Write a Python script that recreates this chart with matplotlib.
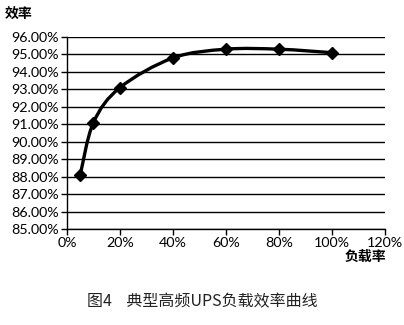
import numpy as np
import matplotlib
matplotlib.use("Agg")
import matplotlib.pyplot as plt
from matplotlib.path import Path
from matplotlib.patches import PathPatch
from matplotlib.ticker import FuncFormatter, MultipleLocator

plt.rcParams['font.family'] = ['Lato', 'Noto Sans CJK SC', 'DejaVu Sans']

# Load rate (%) and efficiency (%)
load_pct = [5, 10, 20, 40, 60, 80, 100]
efficiency_pct = [88.1, 91.1, 93.1, 94.8, 95.3, 95.3, 95.1]

x_ticks = [0, 20, 40, 60, 80, 100, 120]
y_min, y_max = 85, 96

fig = plt.figure(figsize=(4.04, 3.25), dpi=100)
ax = fig.add_axes([0.1658, 0.2954, 0.7872, 0.5908])

ax.set_xlim(0, 120)
ax.set_ylim(y_min, y_max)
ax.set_xticks(x_ticks)
ax.xaxis.set_major_formatter(FuncFormatter(lambda v, p: f"{v:.0f}%"))
ax.yaxis.set_major_locator(MultipleLocator(1))
ax.yaxis.set_major_formatter(FuncFormatter(lambda v, p: f"{v:.2f}%"))

ax.grid(axis='y', color='black', linewidth=1.0)
ax.set_axisbelow(True)
for s in ['top', 'right']:
    ax.spines[s].set_visible(False)
for s in ['left', 'bottom']:
    ax.spines[s].set_color('black')
    ax.spines[s].set_linewidth(1.0)
ax.tick_params(axis='both', labelsize=10.3, color='black', length=4, width=1.0, pad=2)

# Smoothed line through the data (Catmull-Rom style Bezier segments)
pts = np.column_stack([load_pct, efficiency_pct]).astype(float)
verts = [tuple(pts[0])]
codes = [Path.MOVETO]
n = len(pts)
t = 1.0 / 6.0
for i in range(n - 1):
    p0 = pts[i - 1] if i > 0 else pts[i]
    p1 = pts[i]
    p2 = pts[i + 1]
    p3 = pts[i + 2] if i + 2 < n else pts[i + 1]
    c1 = p1 + (p2 - p0) * t
    c2 = p2 - (p3 - p1) * t
    verts += [tuple(c1), tuple(c2), tuple(p2)]
    codes += [Path.CURVE4] * 3
ax.add_patch(PathPatch(Path(verts, codes), facecolor='none', edgecolor='black',
                       linewidth=2.4, zorder=3, clip_on=False))
ax.plot(load_pct, efficiency_pct, linestyle='none', marker='D', markersize=6,
        color='black', zorder=4, clip_on=False)

fig.text(0.012, 0.958, "效率", fontsize=10, family=['Noto Sans CJK SC'],
         fontweight='bold', va='center', ha='left')
fig.text(0.955, 0.21, "负载率", fontsize=10, family=['Noto Sans CJK SC'],
         fontweight='bold', va='center', ha='right')
fig.text(0.5, 0.072, "图4    典型高频UPS负载效率曲线", fontsize=11.5,
         family=['Noto Sans CJK SC'], va='center', ha='center', color='#222222')

fig.savefig("out.png", dpi=100, facecolor='white')
